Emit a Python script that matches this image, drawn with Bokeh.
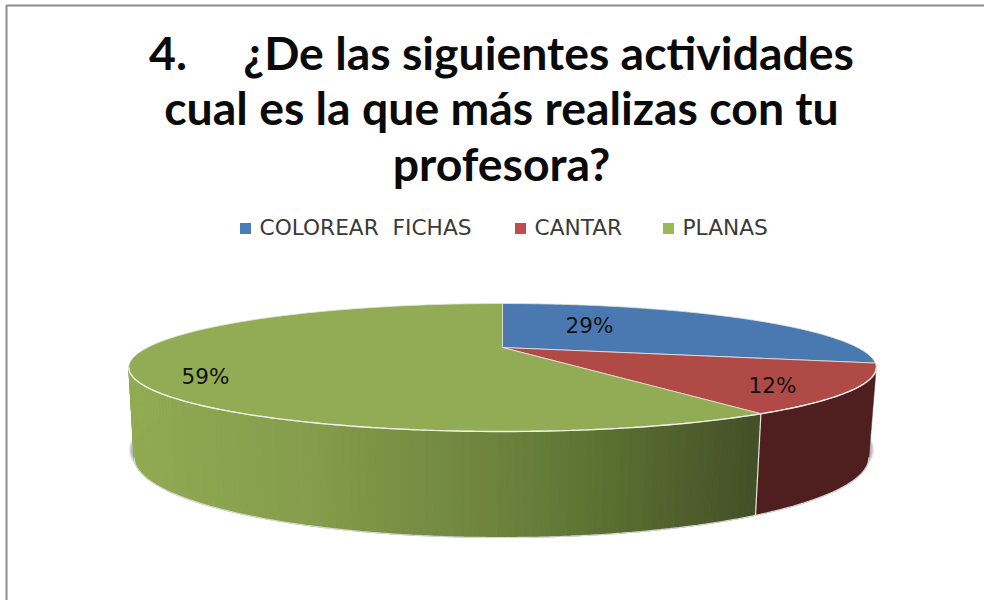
from bokeh.plotting import figure
from bokeh.models import Range1d
from bokeh.core.properties import value
from bokeh.embed import file_html
from bokeh.resources import INLINE
import numpy as np

title_lines = ["4.\u00a0\u00a0\u00a0\u00a0\u00a0¿De las siguientes actividades", "cual es la que más realizas con tu", "profesora?"]
categories = ["COLOREAR\u00a0\u00a0FICHAS", "CANTAR", "PLANAS"]
shares = [29, 12, 59]
labels = ["29%", "12%", "59%"]

top_colors = ["#4a79b1", "#b04a47", "#91ac54"]
legend_colors = ["#4a7db8", "#bd4e4b", "#98b956"]
side_stops_x = [130, 300, 500, 600, 757]
side_stops_rgb = [(0x90, 0xab, 0x52), (0x86, 0x9e, 0x4d), (0x6d, 0x83, 0x3d), (0x5c, 0x72, 0x33), (0x44, 0x50, 0x28)]
red_side = "#4e1f1e"

# geometry of the perspective ellipse
CX, AY, C, B, A = 502.0, 347.0, 355.0, 57.75, 0.3125
SX, TY, APEX_B = 0.983, 1.25, 432.0

def top_xy(deg):
    t = np.radians(np.asarray(deg, dtype=float))
    u, v = np.sin(t), np.cos(t)
    w = 1 + A * v
    return CX + C * u / w, AY - B * v / w

def bottom_xy(deg):
    x, y = top_xy(deg)
    return CX - 1 + (x - CX) * SX, APEX_B + (y - AY) * TY

p = figure(width=984, height=600, output_backend="svg", toolbar_location=None,
           x_range=Range1d(0, 984), y_range=Range1d(600, 0), min_border=0,
           outline_line_color=None, background_fill_color="white")
p.axis.visible = False
p.grid.visible = False

# frame of the picture
p.line([6, 6, 984], [600, 5, 5], line_color="#8c8c8c", line_width=2)

# shadow
all_deg = np.arange(0, 361, 2)
for i in range(7):
    bx, by = bottom_xy(all_deg)
    k = 1.0 + 0.0024 * i
    p.patch(CX + (bx - CX) * k, by - 8 + (by - 432) * 0.004 * i, fill_color="#404040", fill_alpha=0.11, line_color=None)

# slice limits
cum = np.cumsum([0] + shares) * 3.6
edge = 108.2

def side_strip(a, b):
    ta = top_xy([a, b])
    ba = bottom_xy([a, b])
    return [ta[0][0], ta[0][1], ba[0][1], ba[0][0]], [ta[1][0], ta[1][1], ba[1][1], ba[1][0]]

# side walls: red one
deg = np.linspace(max(cum[1], edge), cum[2], 40)
tx, ty = top_xy(deg)
bx, by = bottom_xy(deg)
p.patch(np.r_[tx, bx[::-1]], np.r_[ty, by[::-1]], fill_color=red_side, line_color=red_side, line_width=0.5)

# side wall: green one, shaded strip by strip
deg = np.arange(cum[2], 360 - edge + 1, 1.0)
xs, ys, cols = [], [], []
for a, b in zip(deg[:-1], deg[1:]):
    sx, sy = side_strip(a, b)
    xs.append(sx)
    ys.append(sy)
    mid = 0.5 * (sx[0] + sx[1])
    cols.append("#%02x%02x%02x" % tuple(int(np.interp(mid, side_stops_x, [c[j] for c in side_stops_rgb])) for j in range(3)))
p.patches(xs, ys, fill_color=cols, line_color=cols, line_width=0.8)

# pale rims of the walls
deg = np.linspace(cum[2] - 39.4, 360 - edge, 120)
bx, by = bottom_xy(deg)
p.line(bx, by, line_color="#d8d8d0", line_width=1.2)
ex, ey = side_strip(cum[2], cum[2])
p.line(ex[1:3], ey[1:3], line_color="#e6e6de", line_width=1.2)

# top slices
for i in range(3):
    deg = np.linspace(cum[i], cum[i + 1], 120)
    tx, ty = top_xy(deg)
    p.patch(np.r_[CX, tx], np.r_[AY, ty], fill_color=top_colors[i], line_color="#e4e4dc", line_width=0.8)

# bright rim along the front of the top
deg = np.linspace(edge, 360 - edge, 160)
tx, ty = top_xy(deg)
p.line(tx, ty, line_color="#f0f0e8", line_width=1.4)

# title
title_y = [51, 106, 162]
p.text([501, 501, 501], title_y, text=title_lines, text_font=value("Lato"), text_font_style="bold",
       text_font_size="46.4px", text_align="center", text_baseline="middle", text_color="#0a0a0a")

# legend
swatch_x = [245, 520, 668]
legend_text_x = [259, 534, 682]
p.rect(swatch_x, [228] * 3, width=11, height=11, fill_color=legend_colors, line_color=None)
p.text(legend_text_x, [227] * 3, text=categories, text_font=value("DejaVu Sans"), text_font_size="21.7px",
       text_align="left", text_baseline="middle", text_color="#3a3a3a")

# value labels
label_x = [589, 772, 205]
label_y = [325, 385, 376]
p.text(label_x, label_y, text=labels, text_font=value("DejaVu Sans"), text_font_size="21.5px",
       text_align="center", text_baseline="middle", text_color="#111111")

open("out.html", "w").write(file_html(p, INLINE))
